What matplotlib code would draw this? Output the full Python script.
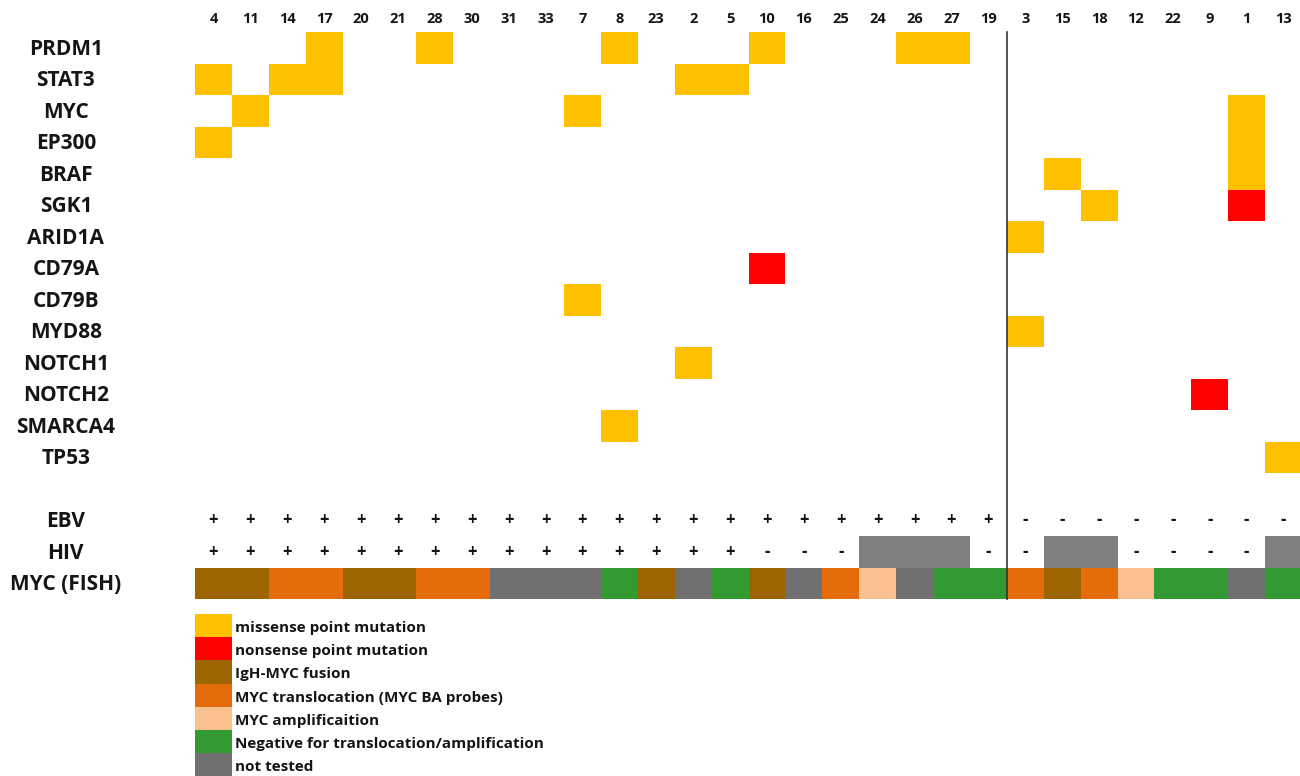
import matplotlib
matplotlib.use("Agg")
import matplotlib.pyplot as plt
from matplotlib.patches import Rectangle

# column order (patient ids) as shown on top
patients = ["4", "11", "14", "17", "20", "21", "28", "30", "31", "33", "7", "8",
            "23", "2", "5", "10", "16", "25", "24", "26", "27", "19",
            "3", "15", "18", "12", "22", "9", "1", "13"]
genes = ["PRDM1", "STAT3", "MYC", "EP300", "BRAF", "SGK1", "ARID1A", "CD79A",
         "CD79B", "MYD88", "NOTCH1", "NOTCH2", "SMARCA4", "TP53"]

# (gene, patient) pairs
missense_hits = [
    ("PRDM1", "17"), ("PRDM1", "28"), ("PRDM1", "8"), ("PRDM1", "10"),
    ("PRDM1", "26"), ("PRDM1", "27"),
    ("STAT3", "4"), ("STAT3", "14"), ("STAT3", "17"), ("STAT3", "2"), ("STAT3", "5"),
    ("MYC", "11"), ("MYC", "7"), ("MYC", "1"),
    ("EP300", "4"), ("EP300", "1"),
    ("BRAF", "15"), ("BRAF", "1"),
    ("SGK1", "18"),
    ("ARID1A", "3"),
    ("CD79B", "7"),
    ("MYD88", "3"),
    ("NOTCH1", "2"),
    ("SMARCA4", "8"),
    ("TP53", "13"),
]
nonsense_hits = [("SGK1", "1"), ("CD79A", "10"), ("NOTCH2", "9")]

ebv = ["+", "+", "+", "+", "+", "+", "+", "+", "+", "+", "+", "+", "+", "+", "+",
       "+", "+", "+", "+", "+", "+", "+", "-", "-", "-", "-", "-", "-", "-", "-"]
hiv = ["+", "+", "+", "+", "+", "+", "+", "+", "+", "+", "+", "+", "+", "+", "+",
       "-", "-", "-", "nt", "nt", "nt", "-", "-", "nt", "nt", "-", "-", "-", "-", "nt"]
fish = ["igh", "igh", "ba", "ba", "igh", "igh", "ba", "ba", "nt", "nt", "nt", "neg",
        "igh", "nt", "neg", "igh", "nt", "ba", "amp", "nt", "neg", "neg",
        "ba", "igh", "ba", "amp", "neg", "neg", "nt", "neg"]

legend_keys = ["mis", "non", "igh", "ba", "amp", "neg", "nt"]
legend_labels = ["missense point mutation", "nonsense point mutation", "IgH-MYC fusion",
                 "MYC translocation (MYC BA probes)", "MYC amplificaition",
                 "Negative for translocation/amplification", "not tested"]

colors = {"mis": "#FFC000", "non": "#FF0000", "igh": "#9C6500", "ba": "#E46C0A",
          "amp": "#FBC08F", "neg": "#339933", "nt": "#707070"}
hiv_grey = "#808080"
ink = "#151515"

plt.rcParams["font.family"] = ["Open Sans", "DejaVu Sans"]

fig = plt.figure(figsize=(13, 7.76), dpi=100)
ax = fig.add_axes([0, 0, 1, 1])
# axes in column/row units, mapped to the picture's pixel grid
col_w, row_h, x0, y0 = 36.9, 31.5, 195.0, 32.0
ax.set_xlim(-x0 / col_w, (1300 - x0) / col_w)
ax.set_ylim((776 - y0) / row_h, -y0 / row_h)
ax.axis("off")

col_of = {p: i for i, p in enumerate(patients)}
row_of = {g: i for i, g in enumerate(genes)}

for hits, key in [(missense_hits, "mis"), (nonsense_hits, "non")]:
    xs = [col_of[p] for g, p in hits]
    ys = [row_of[g] for g, p in hits]
    ax.bar(xs, 1, bottom=ys, width=1, align="edge", color=colors[key], linewidth=0)

ebv_row, hiv_row, fish_row = 15, 16, 17

for i, p in enumerate(patients):
    ax.text(i + 0.5, -0.42, p, ha="center", va="center", fontsize=10.5,
            fontweight="bold", color=ink)
    ax.text(i + 0.5, ebv_row + 0.5, ebv[i], ha="center", va="center",
            fontsize=12, fontweight="bold", color=ink)
    if hiv[i] == "nt":
        ax.bar(i, 1, bottom=hiv_row, width=1, align="edge", color=hiv_grey, linewidth=0)
    else:
        ax.text(i + 0.5, hiv_row + 0.5, hiv[i], ha="center", va="center",
                fontsize=12, fontweight="bold", color=ink)
    ax.bar(i, 1, bottom=fish_row, width=1, align="edge", color=colors[fish[i]],
           linewidth=0)

row_labels = genes + ["", "EBV", "HIV", "MYC (FISH)"]
for r, lab in enumerate(row_labels):
    ax.text(-3.5, r + 0.55, lab, ha="center", va="center", fontsize=15,
            fontweight="bold", color=ink)

# divider between the two patient groups
ax.plot([22, 22], [0, 18], color="#333333", linewidth=1.2)

# legend
leg_top, leg_h = (614 - y0) / row_h, 23.2 / row_h
for k, (key, lab) in enumerate(zip(legend_keys, legend_labels)):
    ax.add_patch(Rectangle((0, leg_top + k * leg_h), 1, leg_h, color=colors[key],
                           linewidth=0))
    ax.text(1.08, leg_top + (k + 0.6) * leg_h, lab, ha="left", va="center",
            fontsize=11, fontweight="bold", color=ink)

fig.savefig("out.png", dpi=100)
